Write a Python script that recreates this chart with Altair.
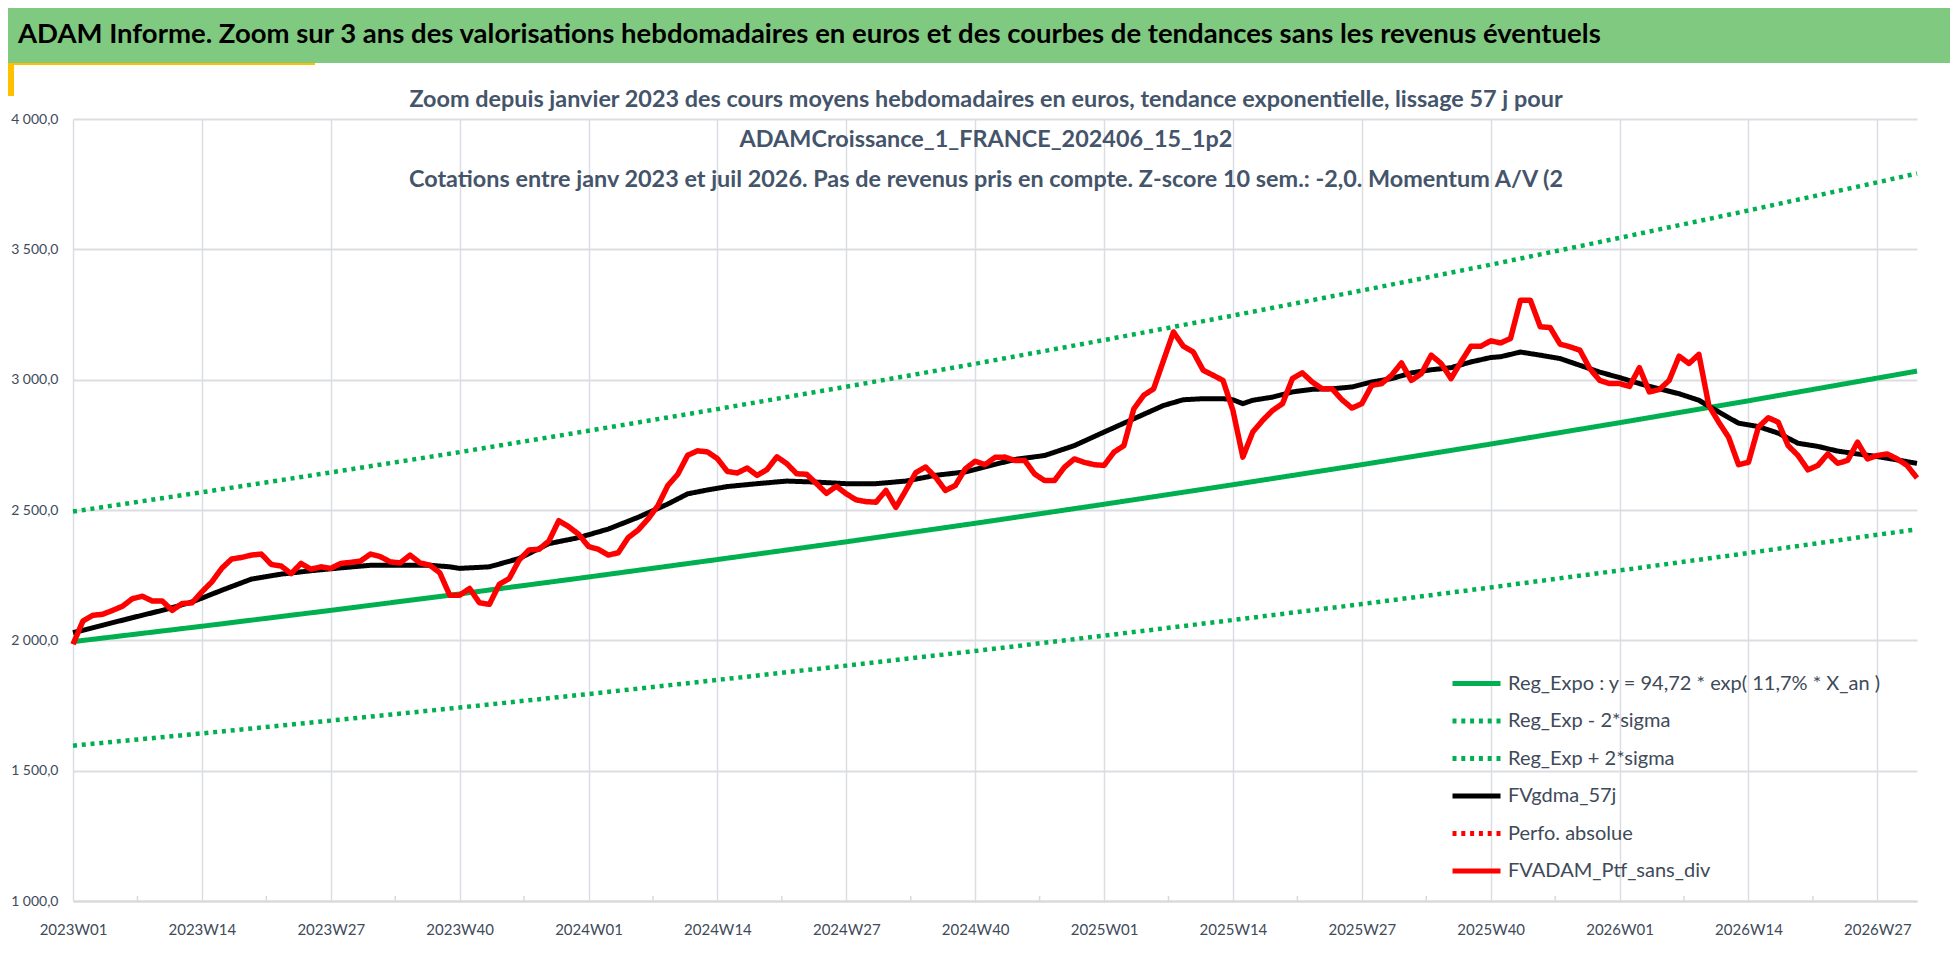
import altair as alt
import pandas as pd

# week index 0 = 2023W01
tick_labels = ["2023W01", "2023W14", "2023W27", "2023W40", "2024W01", "2024W14", "2024W27",
               "2024W40", "2025W01", "2025W14", "2025W27", "2025W40", "2026W01", "2026W14", "2026W27"]
tick_weeks = [0, 13, 26, 39, 52, 65, 78, 91, 104, 117, 130, 143, 156, 169, 182]
minor_ticks = [6.5, 19.5, 32.5, 45.5, 58.5, 71.5, 84.5, 97.5, 110.5, 123.5, 136.5, 149.5, 162.5, 175.5]

# FVADAM_Ptf_sans_div, weekly
red_vals = [1985, 2074, 2096, 2100, 2115, 2131, 2160, 2169, 2151, 2151,
            2115, 2141, 2144, 2186, 2224, 2276, 2312, 2318, 2327, 2331,
            2291, 2285, 2256, 2295, 2273, 2282, 2276, 2295, 2299, 2304,
            2331, 2321, 2301, 2297, 2327, 2297, 2288, 2259, 2173, 2173,
            2199, 2144, 2138, 2215, 2237, 2308, 2347, 2349, 2381, 2459,
            2436, 2407, 2360, 2349, 2327, 2336, 2394, 2423, 2465, 2517,
            2594, 2637, 2710, 2727, 2723, 2697, 2648, 2642, 2661, 2633,
            2655, 2704, 2678, 2639, 2637, 2601, 2564, 2591, 2562, 2539,
            2532, 2530, 2575, 2510, 2575, 2643, 2665, 2626, 2575, 2594,
            2658, 2687, 2674, 2702, 2703, 2690, 2690, 2638, 2613, 2613,
            2664, 2696, 2683, 2674, 2671, 2722, 2747, 2888, 2940, 2965,
            3074, 3183, 3128, 3106, 3036, 3017, 2997, 2882, 2703, 2799,
            2844, 2882, 2908, 3004, 3026, 2991, 2965, 2965, 2923, 2891,
            2908, 2978, 2985, 3017, 3064, 2997, 3023, 3094, 3062, 3004,
            3068, 3128, 3128, 3149, 3141, 3158, 3305, 3305, 3203, 3200,
            3136, 3126, 3113, 3042, 2997, 2985, 2985, 2974, 3046, 2953,
            2962, 2997, 3090, 3062, 3097, 2901, 2837, 2779, 2674, 2683,
            2818, 2854, 2837, 2747, 2709, 2654, 2671, 2715, 2679, 2690,
            2760, 2696, 2709, 2715, 2696, 2671, 2623]

# FVgdma_57j
black_weeks = [0, 3, 6, 9, 12, 15, 18, 21, 24, 27, 30, 33, 36, 38, 39, 42, 45, 48, 51, 54,
               57, 60, 62, 64, 66, 69, 72, 75, 78, 81, 84, 87, 90, 93, 95, 98, 101, 104, 107, 110,
               112, 114, 116, 117, 118, 119, 121, 123, 125, 127, 129, 131, 133, 135, 137, 139, 141, 143, 144, 146,
               148, 150, 152, 154, 156, 158, 160, 162, 164, 166, 168, 170, 172, 174, 176, 178, 180, 182, 184, 186]
black_vals = [2029, 2058, 2087, 2115, 2147, 2192, 2235, 2254, 2267, 2278, 2288, 2288, 2288, 2282, 2276, 2282, 2314, 2371, 2394, 2427,
              2472, 2523, 2562, 2577, 2590, 2601, 2611, 2607, 2601, 2601, 2611, 2633, 2646, 2675, 2694, 2709, 2747, 2799, 2850, 2901,
              2923, 2927, 2927, 2923, 2908, 2921, 2933, 2953, 2963, 2965, 2972, 2991, 3004, 3026, 3038, 3046, 3068, 3085, 3088, 3106,
              3094, 3081, 3055, 3029, 3008, 2985, 2965, 2946, 2921, 2876, 2833, 2820, 2795, 2756, 2744, 2726, 2715, 2705, 2692, 2679]

# exponential trend and +/- 2 sigma bands
trend_weeks = [0, 13, 26, 39, 52, 65, 78, 91, 104, 117, 130, 143, 156, 169, 182, 186]
reg_vals = [1995, 2054, 2115, 2178, 2243, 2310, 2378, 2449, 2522, 2597, 2674, 2753, 2835, 2919, 3006, 3033]
upper_vals = [2494, 2568, 2644, 2722, 2804, 2887, 2973, 3061, 3152, 3246, 3342, 3441, 3544, 3649, 3757, 3791]
lower_vals = [1596, 1643, 1692, 1742, 1794, 1848, 1903, 1959, 2018, 2078, 2139, 2203, 2268, 2335, 2405, 2426]

series = ["Reg_Expo : y = 94,72 * exp( 11,7% *  X_an )", "Reg_Exp - 2*sigma", "Reg_Exp + 2*sigma",
          "FVgdma_57j", "Perfo. absolue", "FVADAM_Ptf_sans_div"]
colors = ["#00b050", "#00b050", "#00b050", "#000000", "#ff0000", "#ff0000"]
dashes = [[1, 0], [4, 4.8], [4, 4.8], [1, 0], [4, 4.8], [1, 0]]

banner_title = "ADAM Informe. Zoom sur 3 ans des valorisations hebdomadaires en euros et des courbes de tendances sans les revenus éventuels"
chart_title = ("Zoom depuis janvier 2023 des cours moyens hebdomadaires  en euros, tendance exponentielle, lissage 57 j pour\n"
               "ADAMCroissance_1_FRANCE_202406_15_1p2\n"
               "Cotations entre janv 2023 et juil 2026. Pas de revenus pris en compte. Z-score 10 sem.: -2,0. Momentum A/V (2")

FONT = "Lato"
LABEL = "#404a59"

df_red = pd.DataFrame({"week": list(range(len(red_vals))), "v": red_vals, "s": series[5]})
df_black = pd.DataFrame({"week": black_weeks, "v": black_vals, "s": series[3]})
df_reg = pd.DataFrame({"week": trend_weeks, "v": reg_vals, "s": series[0]})
df_low = pd.DataFrame({"week": trend_weeks, "v": lower_vals, "s": series[1]})
df_up = pd.DataFrame({"week": trend_weeks, "v": upper_vals, "s": series[2]})

label_arr = "[" + ",".join(f"'{t}'" for t in tick_labels) + "]"

x = alt.X("week:Q", scale=alt.Scale(domain=[0, 186], nice=False, zero=False),
          axis=alt.Axis(values=tick_weeks, labelExpr=f"{label_arr}[round(datum.value/13)]",
                        title=None, grid=True, gridColor="#dcdde2", gridWidth=1.5,
                        domainColor="#d9d9d9", domainWidth=2, ticks=False, labelFlush=False,
                        labelFont=FONT, labelFontSize=15, labelColor=LABEL, labelPadding=21))
y = alt.Y("v:Q", scale=alt.Scale(domain=[1000, 4000], nice=False, zero=False),
          axis=alt.Axis(values=[1000, 1500, 2000, 2500, 3000, 3500, 4000], title=None,
                        labelExpr="replace(replace(format(datum.value, ',.1f'), ',', ' '), '.', ',')",
                        grid=True, gridColor="#dcdde2", gridWidth=2, domain=False, ticks=False,
                        labelFont=FONT, labelFontSize=14, labelColor=LABEL, labelPadding=15))
color = alt.Color("s:N", scale=alt.Scale(domain=series, range=colors),
                  legend=alt.Legend(orient="none", legendX=1377, legendY=538, title=None,
                                    symbolType="stroke", symbolSize=2304, symbolStrokeWidth=5,
                                    labelFont=FONT, labelFontSize=20, labelColor=LABEL,
                                    labelOffset=5, labelLimit=600, rowPadding=0.5, padding=0))
dash = alt.StrokeDash("s:N", scale=alt.Scale(domain=series, range=dashes), legend=None)


def line(df, width):
    return alt.Chart(df).mark_line(strokeWidth=width, strokeJoin="round").encode(
        x=x, y=y, color=color, strokeDash=dash)


ticks = alt.Chart(pd.DataFrame({"week": minor_ticks})).mark_rule(color="#d9d9d9", strokeWidth=1.5).encode(
    x="week:Q", y=alt.value(777), y2=alt.value(782))

one = pd.DataFrame({"t": [banner_title], "sub": [chart_title]})
banner = alt.Chart(one).mark_rect(color="#80c980").encode(
    x=alt.value(-73), x2=alt.value(1885), y=alt.value(-119), y2=alt.value(-56))
under = alt.Chart(one).mark_rect(color="#ffc000").encode(
    x=alt.value(-73), x2=alt.value(242), y=alt.value(-56), y2=alt.value(-54))
sidebar = alt.Chart(one).mark_rect(color="#ffc000").encode(
    x=alt.value(-73), x2=alt.value(-59), y=alt.value(-56), y2=alt.value(-23))
banner_text = alt.Chart(one).mark_text(align="left", baseline="alphabetic", font=FONT, fontSize=27.5,
                                      fontWeight="bold", color="#000000").encode(
    text="t:N", x=alt.value(-55), y=alt.value(-76))
title_text = alt.Chart(one).mark_text(align="center", baseline="middle", font=FONT, fontSize=23.4,
                                     fontWeight="bold", color="#44546a", lineBreak="\n",
                                     lineHeight=40).encode(
    text="sub:N", x=alt.value(913), y=alt.value(-19))

chart = alt.layer(
    ticks, banner, under, sidebar, banner_text,
    line(df_reg, 5), line(df_low, 4.5), line(df_up, 4.5), line(df_black, 5), line(df_red, 5.5),
    title_text,
).properties(
    width=1844, height=782,
    autosize=alt.AutoSizeParams(type="none"),
    padding={"left": 65, "top": 111, "right": 33, "bottom": 50},
).configure_view(stroke=None)

chart.save("out.html", embed_options={"renderer": "svg", "actions": False})
